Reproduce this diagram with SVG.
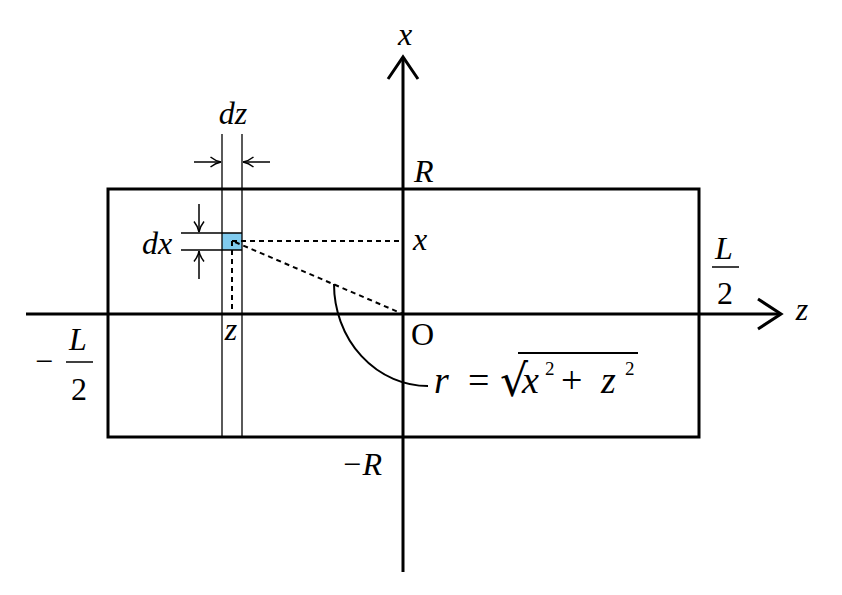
<svg xmlns="http://www.w3.org/2000/svg" width="842" height="595" viewBox="0 0 842 595">
<defs>
<marker id="ah" viewBox="0 0 12 12" refX="11.5" refY="6" markerWidth="12" markerHeight="12" markerUnits="userSpaceOnUse" orient="auto">
<path d="M1,1 Q6,5 11.5,6 Q6,7 1,11" fill="none" stroke="#000" stroke-width="1.5"/>
</marker>
</defs>
<style>
.thick{stroke:#000;stroke-width:3;fill:none}
.thin{stroke:#000;stroke-width:1.3;fill:none}
.dash{stroke:#000;stroke-width:2;fill:none;stroke-dasharray:5 4}
.arr{stroke:#000;stroke-width:1.5;fill:none;marker-end:url(#ah)}
.m{font-family:"Liberation Serif","DejaVu Serif",serif;font-style:italic;font-size:32px;fill:#000}
.r{font-family:"Liberation Serif","DejaVu Serif",serif;font-size:32px;fill:#000}
.f{font-family:"Liberation Serif","DejaVu Serif",serif;font-size:38px;fill:#000}
.fi{font-family:"Liberation Serif","DejaVu Serif",serif;font-style:italic;font-size:38px;fill:#000}
.sup{font-family:"Liberation Serif","DejaVu Serif",serif;font-size:19px;fill:#000}
.rad{font-family:"DejaVu Sans","Liberation Serif",sans-serif;font-size:44px;fill:#000}
</style>
<rect width="842" height="595" fill="#fff"/>
<g id="cylinder">
<rect x="108" y="189" width="591" height="248" class="thick"/>
</g>
<g id="strip">
<rect x="222" y="233" width="20" height="17" fill="#80cbef"/>
<line x1="222" y1="134" x2="222" y2="437" class="thin"/>
<line x1="242" y1="134" x2="242" y2="437" class="thin"/>
<line x1="181" y1="233" x2="242" y2="233" class="thin"/>
<line x1="181" y1="250" x2="242" y2="250" class="thin"/>
</g>
<g id="connectors">
<line x1="403" y1="572" x2="403" y2="57" class="thick"/>
<polyline points="388,79 403,57 418,79" class="thick"/>
<line x1="26" y1="314" x2="781" y2="314" class="thick"/>
<polyline points="758,299 781,314 758,329" class="thick"/>
<line x1="194" y1="162" x2="221" y2="162" class="arr"/>
<line x1="270" y1="162" x2="243" y2="162" class="arr"/>
<line x1="199" y1="204" x2="199" y2="232" class="arr"/>
<line x1="199" y1="279" x2="199" y2="251" class="arr"/>
<line x1="232" y1="241" x2="403" y2="241" class="dash"/>
<line x1="232" y1="241" x2="232" y2="314" class="dash"/>
<line x1="235" y1="242" x2="403" y2="314" class="dash"/>
<path d="M334,284 A94,102 0 0 0 428,386" class="thin" style="stroke-width:2"/>
</g>
<g id="labels">
<text x="405" y="45" class="m" text-anchor="middle">x</text>
<text x="802" y="320" class="m" text-anchor="middle">z</text>
<text x="414" y="182" class="m">R</text>
<text x="413" y="250" class="m">x</text>
<text x="411" y="345" class="r">O</text>
<text x="341" y="475" class="m">−R</text>
<text x="233" y="124" class="m" text-anchor="middle">dz</text>
<text x="142" y="254" class="m">dx</text>
<text x="231" y="340" class="m" text-anchor="middle">z</text>
<text x="724" y="259" class="m" text-anchor="middle">L</text>
<line x1="712" y1="267" x2="739" y2="267" stroke="#000" stroke-width="1.5"/>
<text x="725" y="304" class="r" text-anchor="middle">2</text>
<text x="35" y="372" class="r">−</text>
<text x="78" y="350" class="m" text-anchor="middle">L</text>
<line x1="66" y1="362" x2="93" y2="362" stroke="#000" stroke-width="1.5"/>
<text x="79" y="400" class="r" text-anchor="middle">2</text>
<text x="434" y="393" class="fi">r</text>
<text x="468" y="393" class="f">=</text>
<text x="500" y="396" class="rad">√</text>
<line x1="518" y1="353" x2="638" y2="353" stroke="#000" stroke-width="1.8"/>
<text x="522" y="393" class="fi">x</text>
<text x="545" y="375" class="sup">2</text>
<text x="561" y="393" class="f">+</text>
<text x="601" y="393" class="fi">z</text>
<text x="625" y="375" class="sup">2</text>
</g>
</svg>
